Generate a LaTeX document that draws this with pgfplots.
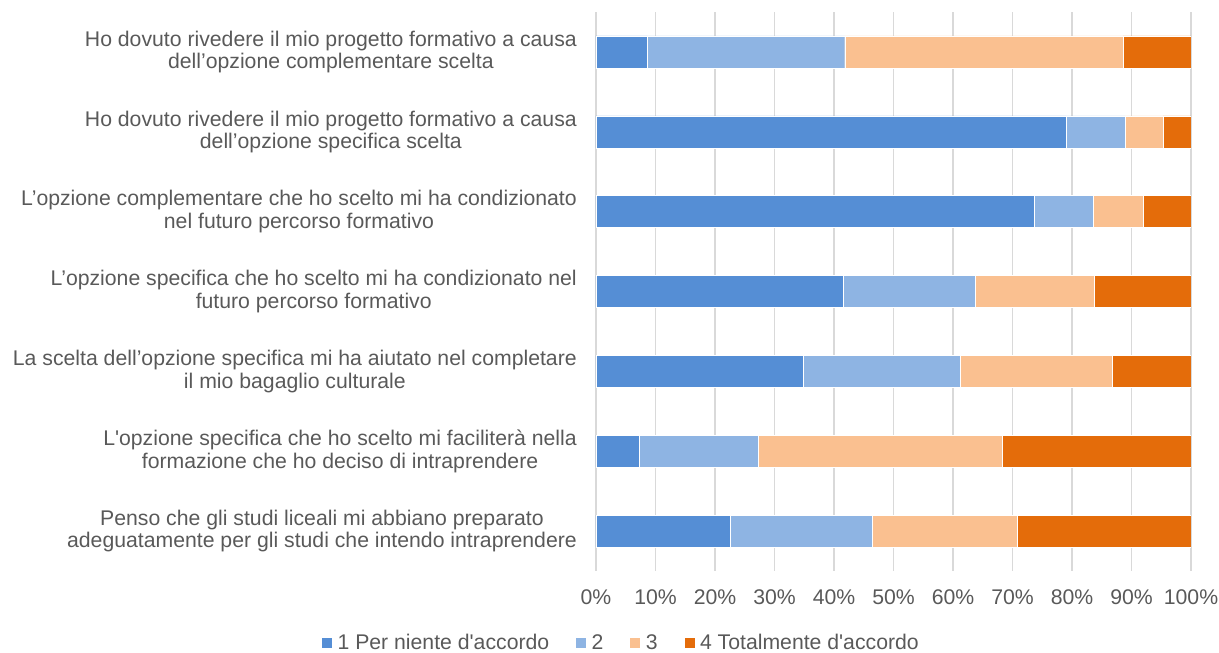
\documentclass[border=0pt]{standalone}
\usepackage{pgfplots}
\pgfplotsset{compat=1.18}
\usepackage{fontspec}
\setmainfont{Liberation Sans}
\definecolor{cA}{HTML}{558ED5}
\definecolor{cB}{HTML}{8EB4E3}
\definecolor{cC}{HTML}{FAC090}
\definecolor{cD}{HTML}{E46C0A}
\definecolor{txt}{HTML}{595959}
\definecolor{grd}{HTML}{D9D9D9}
\pgfplotstableread{
y a b c d
1 8.6 33.2 46.8 11.4
2 79.0 9.9 6.4 4.7
3 73.6 9.9 8.5 8.0
4 41.6 22.1 20.1 16.2
5 34.9 26.3 25.5 13.3
6 7.3 19.9 41.1 31.7
7 22.6 23.9 24.3 29.2
}\data
\begin{document}
\begin{tikzpicture}
\path[use as bounding box] (-596bp,-82bp) rectangle (623bp,571bp);
\begin{axis}[
  at={(0,0)}, anchor=south west,
  scale only axis, width=595bp, height=559bp,
  xbar stacked, bar width=32bp,
  xmin=0, xmax=100,
  ymin=0.5, ymax=7.5, y dir=reverse,
  axis line style={draw=none},
  xmajorgrids, grid style={grd, line width=1.3bp},
  major tick length=0pt,
  xtick={0,10,...,100},
  xticklabels={0\%,10\%,20\%,30\%,40\%,50\%,60\%,70\%,80\%,90\%,100\%},
  ytick={1,...,7},
  yticklabels={
    {Ho dovuto rivedere il mio progetto formativo a causa\\dell’opzione complementare scelta},
    {Ho dovuto rivedere il mio progetto formativo a causa\\dell’opzione specifica scelta},
    {L’opzione complementare che ho scelto mi ha condizionato\\nel futuro percorso formativo},
    {L’opzione specifica che ho scelto mi ha condizionato nel\\futuro percorso formativo},
    {La scelta dell’opzione specifica mi ha aiutato nel completare\\il mio bagaglio culturale},
    {L\textquotesingle opzione specifica che ho scelto mi faciliterà nella\\formazione che ho deciso di intraprendere},
    {Penso che gli studi liceali mi abbiano preparato\\adeguatamente per gli studi che intendo intraprendere}},
  yticklabel style={align=center, anchor=east, inner sep=0pt, xshift=-19bp,
    font=\fontsize{21.3}{22.5}\selectfont, text=txt},
  xticklabel style={anchor=center, inner sep=0pt, yshift=-26bp,
    font=\fontsize{21.3}{22.5}\selectfont, text=txt},
  legend columns=4,
  legend style={at={(axis description cs:0.042,0)}, anchor=center, yshift=-72bp,
    draw=none, fill=none, font=\fontsize{21.3}{22.5}\selectfont, text=txt,
    /tikz/every even column/.append style={column sep=24bp}},
  legend image code/.code={\fill[#1] (0bp,-5.5bp) rectangle (11bp,5.5bp);},
]
\addplot[fill=cA, draw=white, line width=0.4bp] table[x=a, y=y] {\data};
\addplot[fill=cB, draw=white, line width=0.4bp] table[x=b, y=y] {\data};
\addplot[fill=cC, draw=white, line width=0.4bp] table[x=c, y=y] {\data};
\addplot[fill=cD, draw=white, line width=0.4bp] table[x=d, y=y] {\data};
\legend{\hspace{3bp}1 Per niente d\textquotesingle accordo, \hspace{3bp}2, \hspace{3bp}3, \hspace{3bp}4 Totalmente d\textquotesingle accordo}
\end{axis}
\end{tikzpicture}
\end{document}
